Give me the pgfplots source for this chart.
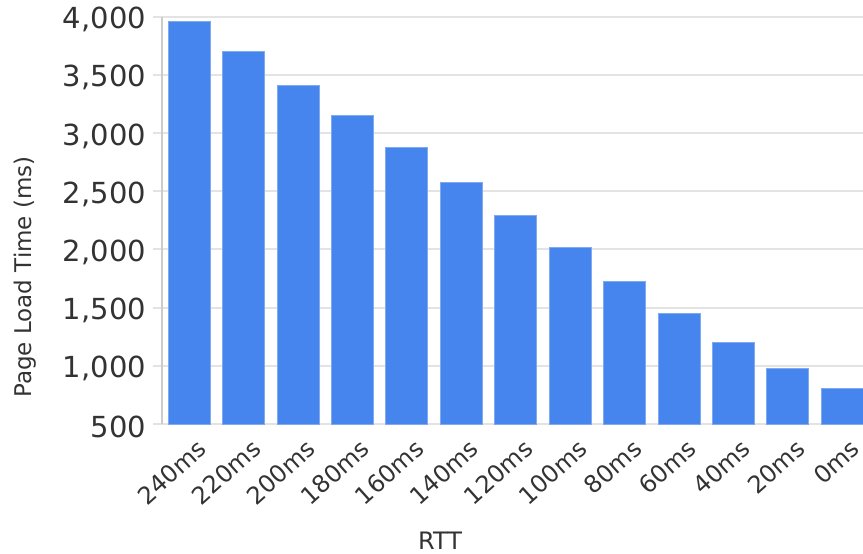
\documentclass[border=0pt]{standalone}
\usepackage{fontspec}
\setmainfont{DejaVu Sans}
\usepackage{pgfplots}
\pgfplotsset{compat=1.18}
\definecolor{barblue}{HTML}{4684EE}
\definecolor{baredge}{HTML}{7FA9F1}
\definecolor{gridgray}{HTML}{E3E3E3}
\definecolor{axisgray}{HTML}{CCCCCC}
\definecolor{txt}{HTML}{333333}
\begin{document}
\begin{tikzpicture}
\begin{axis}[
  scale only axis, width=353.75pt, height=203.65pt,
  at={(0,0)}, anchor=south west,
  xmin=-0.5, xmax=12.5, ymin=500, ymax=4000,
  axis lines*=left,
  ytick={500,1000,...,4000},
  xtick={0,...,12},
  xticklabels={240ms,220ms,200ms,180ms,160ms,140ms,120ms,100ms,80ms,60ms,40ms,20ms,0ms},
  minor xtick={-0.5,0.5,...,12.5},
  tick align=outside,
  x axis line style={gridgray, line width=1pt},
  y axis line style={axisgray, line width=1pt},
  ymajorgrids, major grid style={gridgray, line width=1pt},
  ytick style={gridgray, line width=1pt}, major tick length=4.5pt,
  xtick style={draw=none},
  minor x tick style={axisgray, line width=0.6pt}, minor tick length=4pt,
  /pgf/number format/assume math mode=true,
  /pgf/number format/1000 sep={,},
  yticklabel style={font=\fontsize{14.5}{17}\selectfont, text=txt, anchor=east, yshift=-1.5pt},
  xticklabel style={font=\fontsize{12}{14}\selectfont, text=txt, rotate=42, anchor=north east, inner sep=0pt, xshift=1pt, yshift=-4pt},
  xlabel={RTT}, ylabel={Page Load Time (ms)},
  xlabel style={at={(axis description cs:0.393,-0.287)}, anchor=center, font=\fontsize{12}{14}\selectfont, text=txt},
  ylabel style={at={(axis description cs:-0.1936,0.361)}, anchor=center, font=\fontsize{11.5}{14}\selectfont, text=txt},
  clip=true,
]
\addplot[ybar, bar width=0.772, fill=barblue, draw=baredge, line width=0.5pt] coordinates {
  (0,3957) (1,3700) (2,3408) (3,3151) (4,2877) (5,2572) (6,2294)
  (7,2020) (8,1726) (9,1451) (10,1203) (11,980) (12,805)
};
\end{axis}
\pgfresetboundingbox
\path[use as bounding box] (-81pt,-64.5pt) rectangle (350.5pt,212pt);
\end{tikzpicture}
\end{document}
